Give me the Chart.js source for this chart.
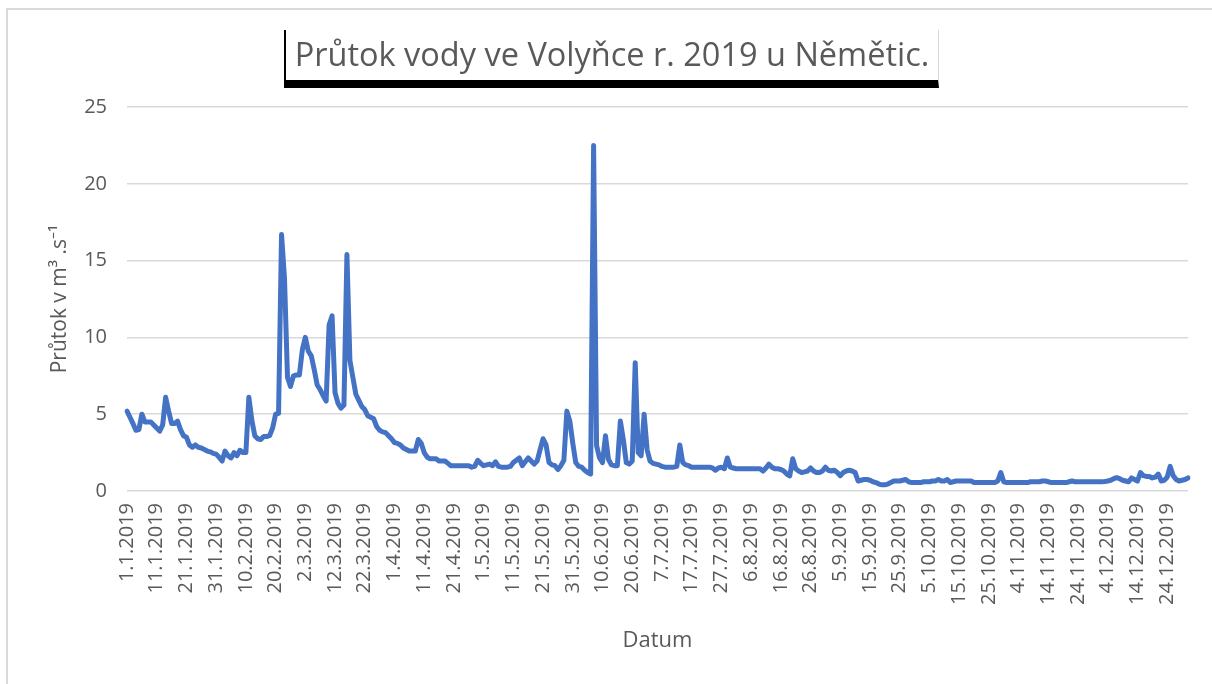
<!DOCTYPE html>
<html lang="cs">
<head>
<meta charset="utf-8">
<title>Průtok vody ve Volyňce 2019</title>
<script src="https://cdn.jsdelivr.net/npm/chart.js@4.4.1/dist/chart.umd.min.js"></script>
<style>
    body { margin: 0; background: #fff; }
    #wrap { position: relative; width: 1212px; height: 684px; overflow: hidden; }
    #frame { position: absolute; left: 6px; top: 8px; right: -10px; bottom: -10px;
             border-top: 2px solid #d9d9d9; border-left: 2px solid #d9d9d9; }
    #title { position: absolute; left: 284px; top: 30px; width: 652px; height: 50px;
             border-left: 2px solid #000; border-right: 1px solid #d9d9d9; border-bottom: 8px solid #000;
             font-family: "Open Sans", sans-serif; font-size: 32.5px; color: #595959;
             text-align: center; line-height: 48px; white-space: nowrap; }
    canvas { position: absolute; left: 0; top: 0; }
</style>
</head>
<body>
<div id="wrap">
    <div id="frame"></div>
    <canvas id="flow-chart" width="1212" height="684"></canvas>
    <div id="title">Průtok vody ve Volyňce r. 2019 u Němětic.</div>
</div>
<script>
// dny, které v datech chybí (mezi 20.6. a 7.7.)
const missingDays = ['30.6', '1.7', '2.7', '3.7', '4.7', '5.7', '6.7'];

// průtok v m3/s, jeden údaj za den (od 1.1.2019)
const flow = [
    5.2, 4.8, 4.4, 3.95, 4.0, 5.0, 4.5, 4.5, 4.5, 4.3,
    4.1, 3.9, 4.3, 6.1, 5.2, 4.4, 4.4, 4.55, 4.0, 3.6,
    3.5, 3.0, 2.85, 3.0, 2.85, 2.8, 2.7, 2.6, 2.55, 2.45,
    2.4, 2.2, 1.95, 2.6, 2.3, 2.15, 2.5, 2.3, 2.65, 2.5,
    2.5, 6.1, 4.6, 3.6, 3.4, 3.35, 3.55, 3.55, 3.6, 4.1,
    5.0, 5.05, 16.7, 13.8, 7.4, 6.8, 7.5, 7.55, 7.55, 9.2,
    10.0, 9.1, 8.8, 7.9, 6.9, 6.6, 6.2, 5.85, 10.8, 11.4,
    6.4, 5.7, 5.4, 5.6, 15.4, 8.5, 7.4, 6.3, 5.9, 5.5,
    5.3, 4.9, 4.8, 4.7, 4.2, 3.95, 3.85, 3.8, 3.6, 3.4,
    3.15, 3.1, 3.0, 2.8, 2.7, 2.6, 2.6, 2.6, 3.35, 3.1,
    2.5, 2.2, 2.1, 2.1, 2.1, 1.95, 1.95, 1.95, 1.8, 1.65,
    1.65, 1.65, 1.65, 1.65, 1.65, 1.65, 1.55, 1.6, 2.0, 1.8,
    1.65, 1.7, 1.75, 1.65, 1.9, 1.6, 1.55, 1.55, 1.55, 1.6,
    1.85, 2.0, 2.15, 1.65, 1.9, 2.15, 1.95, 1.75, 1.95, 2.7,
    3.4, 3.0, 1.85, 1.7, 1.65, 1.4, 1.65, 2.0, 5.2, 4.55,
    3.1, 1.85, 1.6, 1.55, 1.35, 1.2, 1.1, 22.5, 2.95, 2.15,
    1.85, 3.6, 2.05, 1.7, 1.65, 1.65, 4.55, 3.35, 1.85, 1.75,
    1.95, 8.35, 2.5, 2.3, 5.0, 2.7, 1.95, 1.8, 1.75, 1.7,
    1.6, 1.55, 1.55, 1.55, 1.55, 1.6, 3.0, 1.85, 1.7, 1.65,
    1.55, 1.55, 1.55, 1.55, 1.55, 1.55, 1.55, 1.5, 1.35, 1.5,
    1.55, 1.45, 2.15, 1.55, 1.5, 1.45, 1.45, 1.45, 1.45, 1.45,
    1.45, 1.45, 1.45, 1.45, 1.3, 1.5, 1.75, 1.55, 1.45, 1.45,
    1.4, 1.3, 1.1, 0.98, 2.1, 1.45, 1.3, 1.2, 1.25, 1.3,
    1.5, 1.3, 1.2, 1.2, 1.3, 1.55, 1.35, 1.3, 1.35, 1.2,
    1.0, 1.2, 1.3, 1.35, 1.3, 1.2, 0.65, 0.7, 0.75, 0.75,
    0.7, 0.6, 0.55, 0.45, 0.4, 0.4, 0.45, 0.55, 0.65, 0.65,
    0.65, 0.7, 0.75, 0.6, 0.55, 0.55, 0.55, 0.55, 0.6, 0.6,
    0.6, 0.65, 0.65, 0.75, 0.65, 0.65, 0.75, 0.55, 0.6, 0.65,
    0.65, 0.65, 0.65, 0.65, 0.65, 0.55, 0.55, 0.55, 0.55, 0.55,
    0.55, 0.55, 0.55, 0.65, 1.2, 0.6, 0.55, 0.55, 0.55, 0.55,
    0.55, 0.55, 0.55, 0.55, 0.6, 0.6, 0.6, 0.6, 0.65, 0.65,
    0.6, 0.55, 0.55, 0.55, 0.55, 0.55, 0.55, 0.6, 0.65, 0.6,
    0.6, 0.6, 0.6, 0.6, 0.6, 0.6, 0.6, 0.6, 0.6, 0.62,
    0.65, 0.7, 0.8, 0.87, 0.8, 0.7, 0.65, 0.6, 0.85, 0.75,
    0.65, 1.2, 1.0, 0.95, 0.95, 0.85, 0.9, 1.1, 0.65, 0.7,
    0.9, 1.6, 1.0, 0.75, 0.65, 0.7, 0.75, 0.85
];

// popisky osy y
const yTicks = [0, 5, 10, 15, 20, 25];

// seznam dat (kategorie osy x)
const dates = [];
for (let d = new Date(2019, 0, 1); d.getFullYear() === 2019; d.setDate(d.getDate() + 1)) {
    const dm = d.getDate() + '.' + (d.getMonth() + 1);
    if (!missingDays.includes(dm)) dates.push(dm + '.2019');
}

const textColor = '#595959';
const fontName = '"Open Sans", sans-serif';

const ctx = document.getElementById('flow-chart').getContext('2d');
const chart = new Chart(ctx, {
    type: 'line',
    data: {
        labels: dates,
        datasets: [{
            label: 'Průtok',
            data: flow,
            borderColor: '#4472C4',
            borderWidth: 5,
            borderJoinStyle: 'round',
            borderCapStyle: 'round',
            pointRadius: 0,
            fill: false,
            tension: 0
        }]
    },
    options: {
        responsive: false,
        animation: false,
        layout: { padding: { top: 107, right: 24, bottom: 0, left: 0 } },
        plugins: {
            legend: { display: false },
            tooltip: { enabled: false }
        },
        scales: {
            x: {
                grid: { display: false, drawTicks: false },
                border: { display: false },
                ticks: {
                    autoSkip: false,
                    minRotation: 90,
                    maxRotation: 90,
                    padding: 12,
                    color: textColor,
                    font: { family: fontName, size: 20 },
                    callback: function (value, index) {
                        return index % 10 === 0 ? this.getLabelForValue(value) : null;
                    }
                },
                title: {
                    display: true,
                    text: 'Datum',
                    color: textColor,
                    font: { family: fontName, size: 22 },
                    padding: { top: 30, bottom: 30 }
                },
                afterFit: function (scale) { scale.height = 193; }
            },
            y: {
                min: 0,
                max: 25,
                grid: { color: '#d9d9d9', lineWidth: 1.5, drawTicks: false },
                border: { display: false },
                afterBuildTicks: function (scale) {
                    scale.ticks = yTicks.map(v => ({ value: v }));
                },
                ticks: {
                    padding: 20,
                    color: textColor,
                    font: { family: fontName, size: 20 }
                },
                title: {
                    display: true,
                    text: 'Průtok v m³ .s⁻¹',
                    color: textColor,
                    font: { family: fontName, size: 21 },
                    padding: { top: 47, bottom: 0 }
                },
                afterFit: function (scale) { scale.width = 127; }
            }
        }
    }
});
</script>
</body>
</html>
